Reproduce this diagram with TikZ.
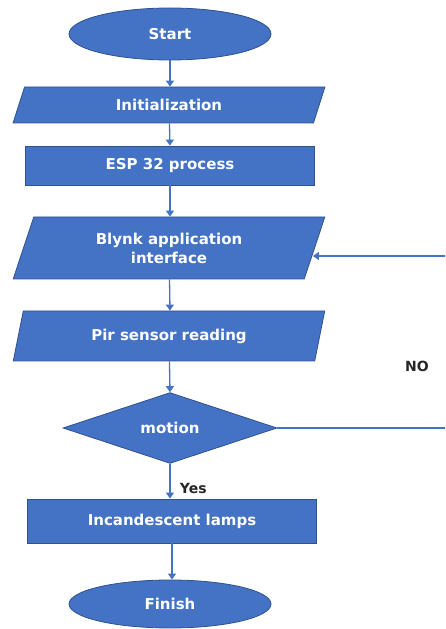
\documentclass[tikz,border=0pt]{standalone}
\usepackage{fontspec}
\setmainfont{DejaVu Sans}
\usepackage{tikz}
\usetikzlibrary{arrows.meta,shapes.geometric,calc}
\definecolor{flowblue}{HTML}{4472C4}
\definecolor{edgeblue}{HTML}{2F528F}
\definecolor{labelgray}{HTML}{262626}

\begin{document}
\begin{tikzpicture}[x=1pt, y=1pt,
  terminal/.style={ellipse, draw=edgeblue, line width=0.8pt, fill=flowblue,
                   minimum width=202pt, minimum height=52pt, inner sep=0pt,
                   text=white, font=\fontsize{15}{18}\selectfont\bfseries},
  iobox/.style={trapezium, trapezium left angle=70, trapezium right angle=110,
                draw=edgeblue, line width=0.8pt, fill=flowblue, inner sep=0pt,
                trapezium stretches=true, minimum width=312pt, align=center,
                text=white, font=\fontsize{15}{19}\selectfont\bfseries},
  procbox/.style={rectangle, draw=edgeblue, line width=0.8pt, fill=flowblue,
                  minimum width=289pt, inner sep=0pt,
                  text=white, font=\fontsize{15}{18}\selectfont\bfseries},
  decision/.style={diamond, draw=edgeblue, line width=0.8pt, fill=flowblue,
                   minimum width=214pt, minimum height=63pt, inner sep=0pt,
                   text=white, font=\fontsize{15}{18}\selectfont\bfseries},
  arr/.style={-{Triangle[length=6pt, width=8pt]}, line width=1.3pt, draw=flowblue},
  lab/.style={text=labelgray, font=\fontsize{14}{16}\selectfont\bfseries},
]
\clip (0,0) rectangle (445,629);

\node[terminal] (start)  at (170,595)   {Start};
\node[iobox, minimum height=36pt]  (init)   at (169,524)   {Initialization};
\node[procbox, minimum height=39pt] (esp)   at (170,463.5) {ESP 32 process};
\node[iobox, minimum height=62pt]  (blynk)  at (169,381)   {Blynk application\\interface};
\node[iobox, minimum height=50pt]  (pir)    at (169,293)   {Pir sensor reading};
\node[decision] (motion) at (170,201) {motion};
\node[procbox, minimum height=44pt] (lamps) at (172,108)   {Incandescent lamps};
\node[terminal, minimum height=48pt] (finish) at (170,25) {Finish};

\draw[arr] (start)  -- (start |- init.north);
\draw[arr] (init)   -- (start |- esp.north);
\draw[arr] (esp)    -- (esp |- blynk.north);
\draw[arr] (blynk)  -- (esp |- pir.north);
\draw[arr] (pir)    -- (esp |- motion.north);
\draw[arr] (motion.south) -- (motion.south |- lamps.north)
           node[lab, pos=0.7, right=6pt] {Yes};
\draw[arr] (lamps)  -- (lamps |- finish.north);

% "NO" path back to the Blynk interface, running past the right edge
\coordinate (loopbot) at (452,201);
\coordinate (looptop) at (452,373);
\draw[arr] (motion.east) -- (loopbot) -- (looptop) -- ($(blynk.east |- looptop)+(-2,0)$);
\node[lab] (no) at (417,263) {NO};
\end{tikzpicture}
\end{document}
